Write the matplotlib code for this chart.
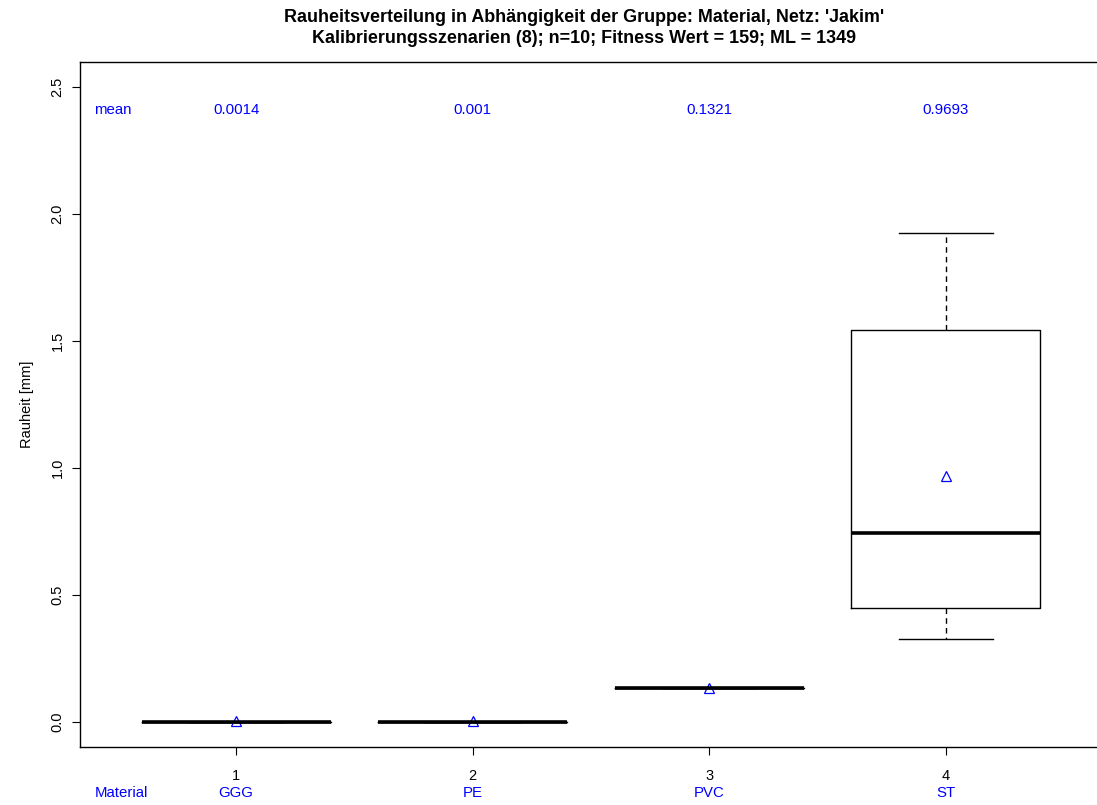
import matplotlib
matplotlib.use("Agg")
import matplotlib.pyplot as plt

plt.rcParams['font.family'] = ['Liberation Sans', 'DejaVu Sans']

# Rauheit je Material (Boxplot-Kennwerte)
materials = ['GGG', 'PE', 'PVC', 'ST']
q1 = [0.0, 0.0, 0.134, 0.446]
median = [0.0, 0.0, 0.134, 0.742]
q3 = [0.0, 0.0, 0.134, 1.544]
whis_lo = [0.0, 0.0, 0.134, 0.324]
whis_hi = [0.0, 0.0, 0.134, 1.927]
means = [0.0014, 0.001, 0.1321, 0.9693]
mean_labels = ['0.0014', '0.001', '0.1321', '0.9693']

title = ("Rauheitsverteilung in Abhängigkeit der Gruppe: Material, Netz: 'Jakim'\n"
         "Kalibrierungsszenarien (8); n=10; Fitness Wert = 159; ML = 1349")

fig = plt.figure(figsize=(10.97, 8.05), dpi=100)
ax = fig.add_axes([80 / 1097, 1 - 747 / 805, (1102 - 80) / 1097, (747 - 62) / 805])

stats = []
for i, m in enumerate(materials):
    stats.append(dict(label=str(i + 1), q1=q1[i], med=median[i], q3=q3[i],
                      whislo=whis_lo[i], whishi=whis_hi[i], fliers=[]))

pos = list(range(1, len(materials) + 1))
ax.bxp(stats, positions=pos, widths=0.8, showfliers=False,
       boxprops=dict(color='black', linewidth=1.0),
       whiskerprops=dict(color='black', linewidth=1.0, linestyle=(0, (4, 3))),
       capprops=dict(color='black', linewidth=1.0),
       medianprops=dict(color='black', linewidth=2.6, solid_capstyle='butt'),
       capwidths=0.4)

ax.plot(pos, means, linestyle='none', marker='^', markersize=7,
        markerfacecolor='none', markeredgecolor='blue', markeredgewidth=0.9)

ax.set_xlim(0.34, 4.66)
ax.set_ylim(-0.1, 2.6)
ax.set_yticks([0.0, 0.5, 1.0, 1.5, 2.0, 2.5])
ax.set_yticklabels(['0.0', '0.5', '1.0', '1.5', '2.0', '2.5'], rotation=90,
                   va='center', fontsize=10.5)
ax.set_xticks(pos)
ax.set_xticklabels([str(p) for p in pos], fontsize=10.5)
ax.tick_params(axis='y', length=6, width=0.8, pad=5)
ax.tick_params(axis='x', length=6, width=0.8, pad=10)
for s in ax.spines.values():
    s.set_linewidth(1.0)

# Mittelwerte oberhalb der Boxen
ax.text(0.400, 2.41, 'mean', color='blue', ha='left', va='center', fontsize=10.8)
for p, lab in zip(pos, mean_labels):
    ax.text(p, 2.41, lab, color='blue', ha='center', va='center', fontsize=10.8)

# Gruppennamen unter der Achse
ax.annotate('Material', xy=(0.403, 0), xycoords=('data', 'axes fraction'),
            xytext=(0, -46), textcoords='offset pixels', ha='left', va='center',
            color='blue', fontsize=10.8)
for p, m in zip(pos, materials):
    ax.annotate(m, xy=(p, 0), xycoords=('data', 'axes fraction'),
                xytext=(0, -46), textcoords='offset pixels', ha='center', va='center',
                color='blue', fontsize=10.8)

ax.set_ylabel('Rauheit [mm]', fontsize=10.5, labelpad=12)
fig.text(584 / 1097, 1 - 28 / 805, title, ha='center', va='center',
         fontsize=12.9, fontweight='bold', linespacing=1.32)

fig.savefig('out.png', dpi=100)
